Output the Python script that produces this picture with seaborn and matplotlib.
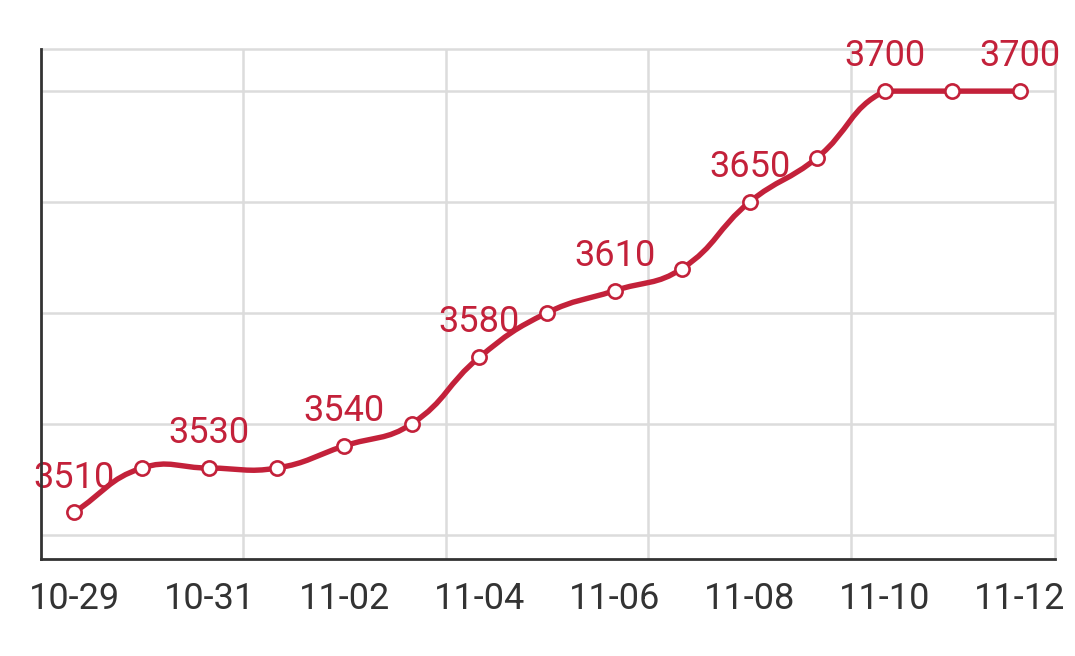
import numpy as np
import pandas as pd
import seaborn as sns
import matplotlib
matplotlib.use("Agg")
import matplotlib.pyplot as plt
from matplotlib.path import Path
from matplotlib.patches import PathPatch

# ---- data ----
dates = ["10-29", "10-30", "10-31", "11-01", "11-02", "11-03", "11-04", "11-05",
         "11-06", "11-07", "11-08", "11-09", "11-10", "11-11", "11-12"]
prices = [3510, 3530, 3530, 3530, 3540, 3550, 3580, 3600,
          3610, 3620, 3650, 3670, 3700, 3700, 3700]
label_every = 2
yticks = [3500, 3550, 3600, 3650, 3700]

RED = "#c3213a"
df = pd.DataFrame({"idx": np.arange(len(dates)), "price": prices, "date": dates})

sns.set_theme(style="white")
plt.rcParams["font.family"] = ["Roboto", "DejaVu Sans"]

fig = plt.figure(figsize=(10.75, 6.56), dpi=100)
ax = fig.add_axes([41 / 1075, 97 / 656, (1055 - 41) / 1075, (559 - 49) / 656])
ax.set_xlim(-0.49, 14.52)
ax.set_ylim(3489, 3719)

# smooth (bezier) path through the points, computed in display space
fig.canvas.draw()
pts = ax.transData.transform(np.column_stack([df["idx"], df["price"]]))
ymin_px, ymax_px = pts[:, 1].min(), pts[:, 1].max()
s = 0.45
verts = [pts[0]]
codes = [Path.MOVETO]
n = len(pts)
cps_before = [None] * n
cps_after = [None] * n
for i in range(n):
    cur = pts[i]
    prev = pts[i - 1] if i > 0 else cur
    nxt = pts[i + 1] if i < n - 1 else cur
    v = nxt - prev
    d0 = np.hypot(*(cur - prev))
    d1 = np.hypot(*(nxt - cur))
    tot = d0 + d1 if (d0 + d1) > 0 else 1
    b = cur - v * s * d0 / tot
    a = cur + v * s * d1 / tot
    b[1] = np.clip(b[1], ymin_px, ymax_px)
    a[1] = np.clip(a[1], ymin_px, ymax_px)
    cps_before[i] = b
    cps_after[i] = a
for i in range(n - 1):
    verts += [cps_after[i], cps_before[i + 1], pts[i + 1]]
    codes += [Path.CURVE4] * 3
inv = ax.transData.inverted()
data_verts = inv.transform(np.array(verts))
path = Path(data_verts, codes)
ax.add_patch(PathPatch(path, facecolor="none", edgecolor=RED, lw=3.9,
                       capstyle="round", joinstyle="round", zorder=3))

sns.scatterplot(data=df, x="idx", y="price", ax=ax, s=105, color="white",
                edgecolor=RED, linewidth=1.9, zorder=4, legend=False)

# data labels
for i in range(0, len(dates), label_every):
    ax.annotate(str(prices[i]), (i, prices[i]), xytext=(0, 25),
                textcoords="offset points", ha="center", va="center",
                fontsize=26, color=RED, zorder=5)

# axes styling
ax.set_xticks(np.arange(0, len(dates), label_every))
ax.set_xticklabels(dates[::label_every], fontsize=26, color="#333333")
ax.set_xticks([2.5, 5.5, 8.5, 11.5], minor=True)
ax.set_yticks(yticks)
ax.set_yticklabels([])
ax.tick_params(axis="both", which="both", length=0)
ax.tick_params(axis="x", pad=16)
ax.grid(False)
ax.xaxis.grid(True, which="minor", color="#dcdcdc", lw=1.8)
ax.yaxis.grid(True, which="major", color="#dcdcdc", lw=1.8)
ax.set_axisbelow(True)
ax.set_xlabel("")
ax.set_ylabel("")
for side in ["left", "bottom"]:
    ax.spines[side].set_color("#333333")
    ax.spines[side].set_linewidth(2)
    ax.spines[side].set_zorder(6)
for side in ["top", "right"]:
    ax.spines[side].set_color("#dcdcdc")
    ax.spines[side].set_linewidth(1.8)

fig.savefig("out.png", dpi=100)
